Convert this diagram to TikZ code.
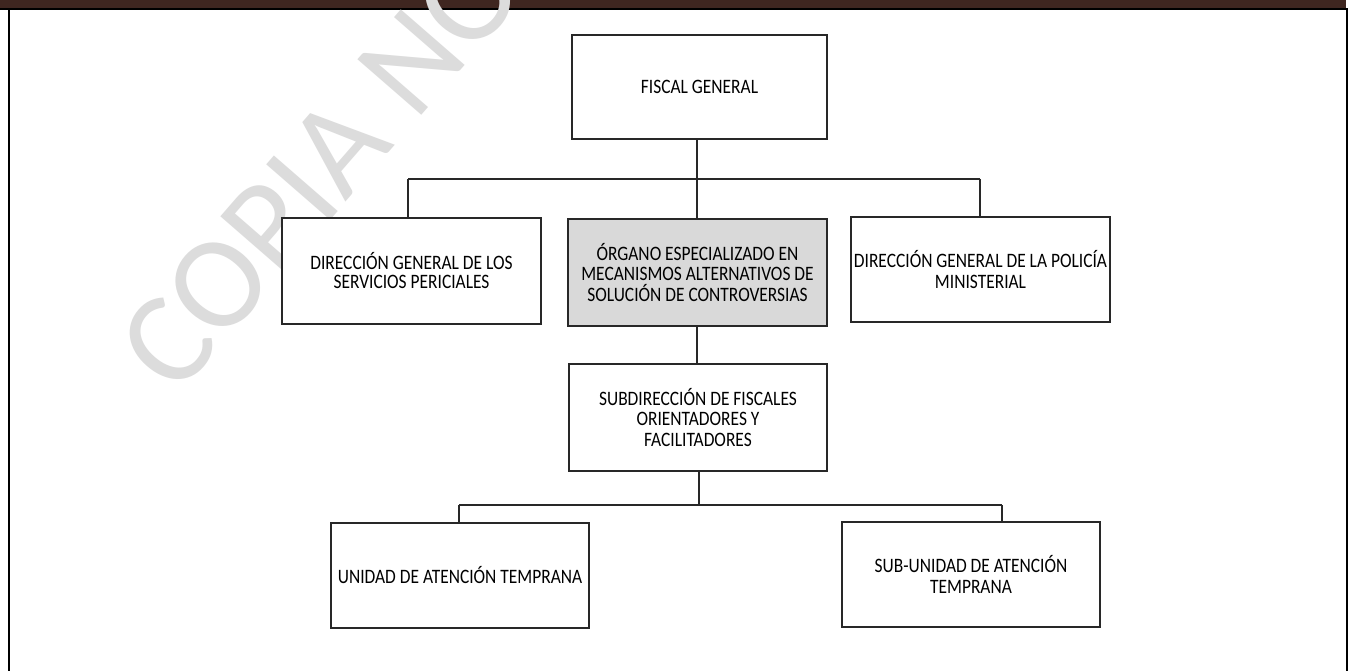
\documentclass[tikz,border=0pt]{standalone}
\usepackage{fontspec}
\setmainfont[FakeStretch=0.85]{Carlito}
\newfontfamily\wmfont{Carlito}
\definecolor{barbrown}{RGB}{63,38,32}
\definecolor{boxgray}{RGB}{217,217,217}
\definecolor{wmgray}{RGB}{220,220,220}
\definecolor{linec}{RGB}{40,40,40}
\tikzset{
  orgbox/.style={draw=linec, line width=1.2pt, fill=white, minimum width=#1, inner sep=0pt,
    align=center, font=\fontsize{20.5}{20.5}\selectfont},
  conn/.style={draw=linec, line width=1.2pt},
  wm/.style={text=wmgray, font=\wmfont\fontsize{132}{132}\selectfont, inner sep=0pt}
}
\begin{document}
\begin{tikzpicture}[x=1pt,y=-1pt]
\useasboundingbox (0,0) rectangle (1351,671);
\fill[white] (0,0) rectangle (1351,671);
% frame
\fill[barbrown] (0,0) rectangle (1346,8.3);
\fill[black] (0,8.3) rectangle (1348,10.4);
\fill[black] (8.3,8.3) rectangle (10.3,671);
\fill[black] (1346,8.3) rectangle (1348,671);
% watermark
\begin{scope}
\clip (0,0) rectangle (1351,671);
\node[wm, rotate=49, anchor=base west] (wmark) at (176,398) {COPIA NO};
\end{scope}
% boxes
\node[orgbox=255pt, minimum height=104pt] (fg) at (699.5,87) {FISCAL GENERAL};
\node[orgbox=259pt, minimum height=106pt] (dsp) at (411.5,271) {DIRECCIÓN GENERAL DE LOS\\[-1.5pt]SERVICIOS PERICIALES};
\node[orgbox=259pt, minimum height=107pt, fill=boxgray] (org) at (697.5,272.5) {ÓRGANO ESPECIALIZADO EN\\MECANISMOS ALTERNATIVOS DE\\SOLUCIÓN DE CONTROVERSIAS};
\node[orgbox=259pt, minimum height=105pt] (pol) at (980.5,269.5) {DIRECCIÓN GENERAL DE LA POLICÍA\\MINISTERIAL};
\node[orgbox=258pt, minimum height=107pt] (sub) at (698,417.5) {SUBDIRECCIÓN DE FISCALES\\ORIENTADORES Y\\FACILITADORES};
\node[orgbox=258pt, minimum height=105pt] (uat) at (460,575.5) {UNIDAD DE ATENCIÓN TEMPRANA};
\node[orgbox=258pt, minimum height=105pt] (suat) at (971,574.5) {SUB-UNIDAD DE ATENCIÓN\\TEMPRANA};
% connectors level 1
\coordinate (bA) at (408,179);
\coordinate (bB) at (697,179);
\coordinate (bC) at (980,179);
\draw[conn] (fg.south -| bB) -- (bB);
\draw[conn] (bA) -- (bC);
\draw[conn] (bA) -- (bA |- dsp.north);
\draw[conn] (bB) -- (bB |- org.north);
\draw[conn] (bC) -- (bC |- pol.north);
% org to sub
\draw[conn] (org.south -| bB) -- (bB |- sub.north);
% level 3
\coordinate (cA) at (459,505);
\coordinate (cB) at (699,505);
\coordinate (cC) at (1002,505);
\draw[conn] (sub.south -| cB) -- (cB);
\draw[conn] (cA) -- (cC);
\draw[conn] (cA) -- (cA |- uat.north);
\draw[conn] (cC) -- (cC |- suat.north);
\end{tikzpicture}
\end{document}
